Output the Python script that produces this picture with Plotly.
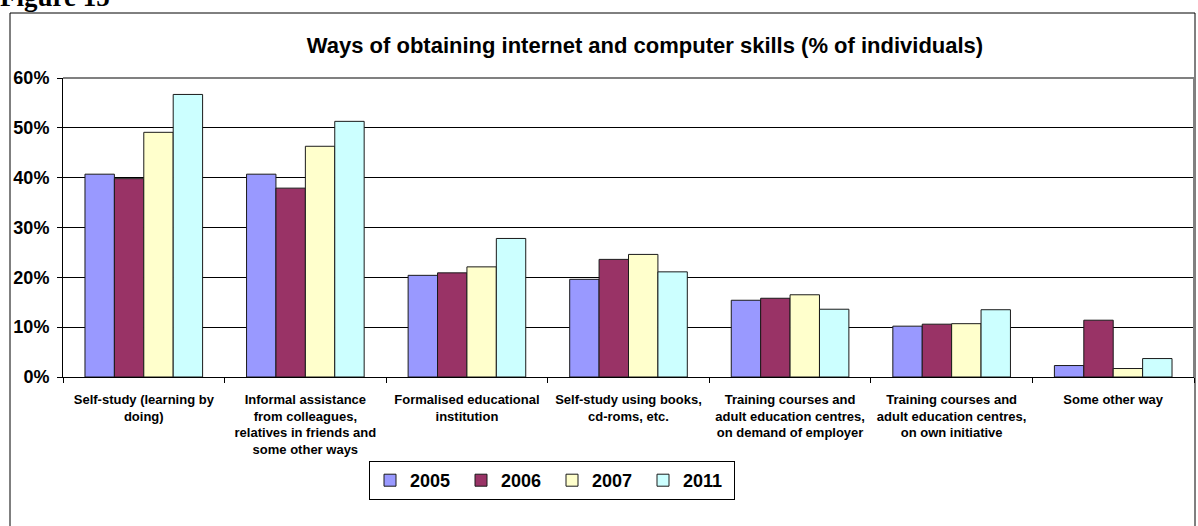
import plotly.graph_objects as go

categories = [
    "Self-study (learning by<br>doing)",
    "Informal assistance<br>from colleagues,<br>relatives in friends and<br>some other ways",
    "Formalised educational<br>institution",
    "Self-study using books,<br>cd-roms, etc.",
    "Training courses and<br>adult education centres,<br>on demand of employer",
    "Training courses and<br>adult education centres,<br>on own initiative",
    "Some other way",
]
years = ["2005", "2006", "2007", "2011"]
v2005 = [0.407, 0.407, 0.204, 0.196, 0.154, 0.102, 0.023]
v2006 = [0.398, 0.379, 0.209, 0.236, 0.158, 0.106, 0.114]
v2007 = [0.491, 0.463, 0.221, 0.246, 0.165, 0.107, 0.017]
v2011 = [0.567, 0.513, 0.278, 0.211, 0.136, 0.135, 0.037]
colors = ["#9999FF", "#993366", "#FFFFCC", "#CCFFFF"]

series = [v2005, v2006, v2007, v2011]
FONT = "Liberation Sans, Arial, sans-serif"

fig = go.Figure()
for name, vals, col in zip(years, series, colors):
    fig.add_trace(go.Bar(
        x=categories, y=vals, name=name,
        marker=dict(color=col, line=dict(color="#1a1a1a", width=1)),
    ))

W, H = 1198, 526
L, R, T, B = 63, 4, 78, 149
PW, PH = W - L - R, H - T - B


def px_x(x):
    return (x - L) / PW


def px_y(y):
    return (H - B - y) / PH


fig.update_layout(
    width=W, height=H,
    margin=dict(l=L, r=R, t=T, b=B, autoexpand=False),
    paper_bgcolor="white", plot_bgcolor="white",
    barmode="group", bargap=0.272, bargroupgap=0,
    font=dict(family=FONT, color="black"),
    title=dict(
        text="Ways of obtaining internet and computer skills (% of individuals)",
        font=dict(family=FONT, size=22, weight="bold", color="black"),
        x=645 / W, xanchor="center", xref="container",
        y=1 - 45 / H, yanchor="middle", yref="container",
    ),
    showlegend=True,
    legend=dict(
        orientation="h",
        x=px_x(369), xanchor="left",
        y=px_y(461), yanchor="top",
        bgcolor="white", bordercolor="black", borderwidth=1,
        font=dict(family=FONT, size=18, weight="bold", color="black"),
        traceorder="normal",
        entrywidth=46, entrywidthmode="pixels",
    ),
    xaxis=dict(
        showline=True, linecolor="black", linewidth=1,
        ticks="outside", tickson="boundaries", ticklen=5, tickcolor="black",
        tickfont=dict(family=FONT, size=13, weight="bold", color="black"),
        tickangle=0, showgrid=False, ticklabelstandoff=10,
    ),
    yaxis=dict(
        range=[0, 0.6], dtick=0.1, tickformat=".0%",
        showline=True, linecolor="black", linewidth=1,
        ticks="outside", ticklen=5, tickcolor="black",
        showgrid=True, gridcolor="black", gridwidth=1,
        zeroline=False, ticklabelstandoff=4,
        tickfont=dict(family=FONT, size=18, weight="bold", color="black"),
    ),
    shapes=[
        dict(type="line", xref="paper", yref="paper", x0=0, x1=1, y0=1, y1=1,
             line=dict(color="#808080", width=2), layer="above"),
        dict(type="line", xref="paper", yref="paper", x0=1, x1=1, y0=0, y1=1,
             line=dict(color="#808080", width=2), layer="above"),
        dict(type="rect", xref="paper", yref="paper",
             x0=px_x(10), x1=px_x(1195),
             y0=px_y(530), y1=px_y(13),
             line=dict(color="black", width=1), layer="below"),
    ],
    annotations=[
        dict(text="Figure 15", xref="paper", yref="paper",
             x=px_x(-2), xanchor="left",
             y=px_y(14), yanchor="bottom",
             showarrow=False,
             font=dict(family="Liberation Serif, Times New Roman, serif", size=27,
                       weight="bold", color="black")),
    ],
)

fig.write_html(
    "out.html",
    config={"displayModeBar": False},
    post_script="document.body.style.margin='0';document.body.style.padding='0';",
)
